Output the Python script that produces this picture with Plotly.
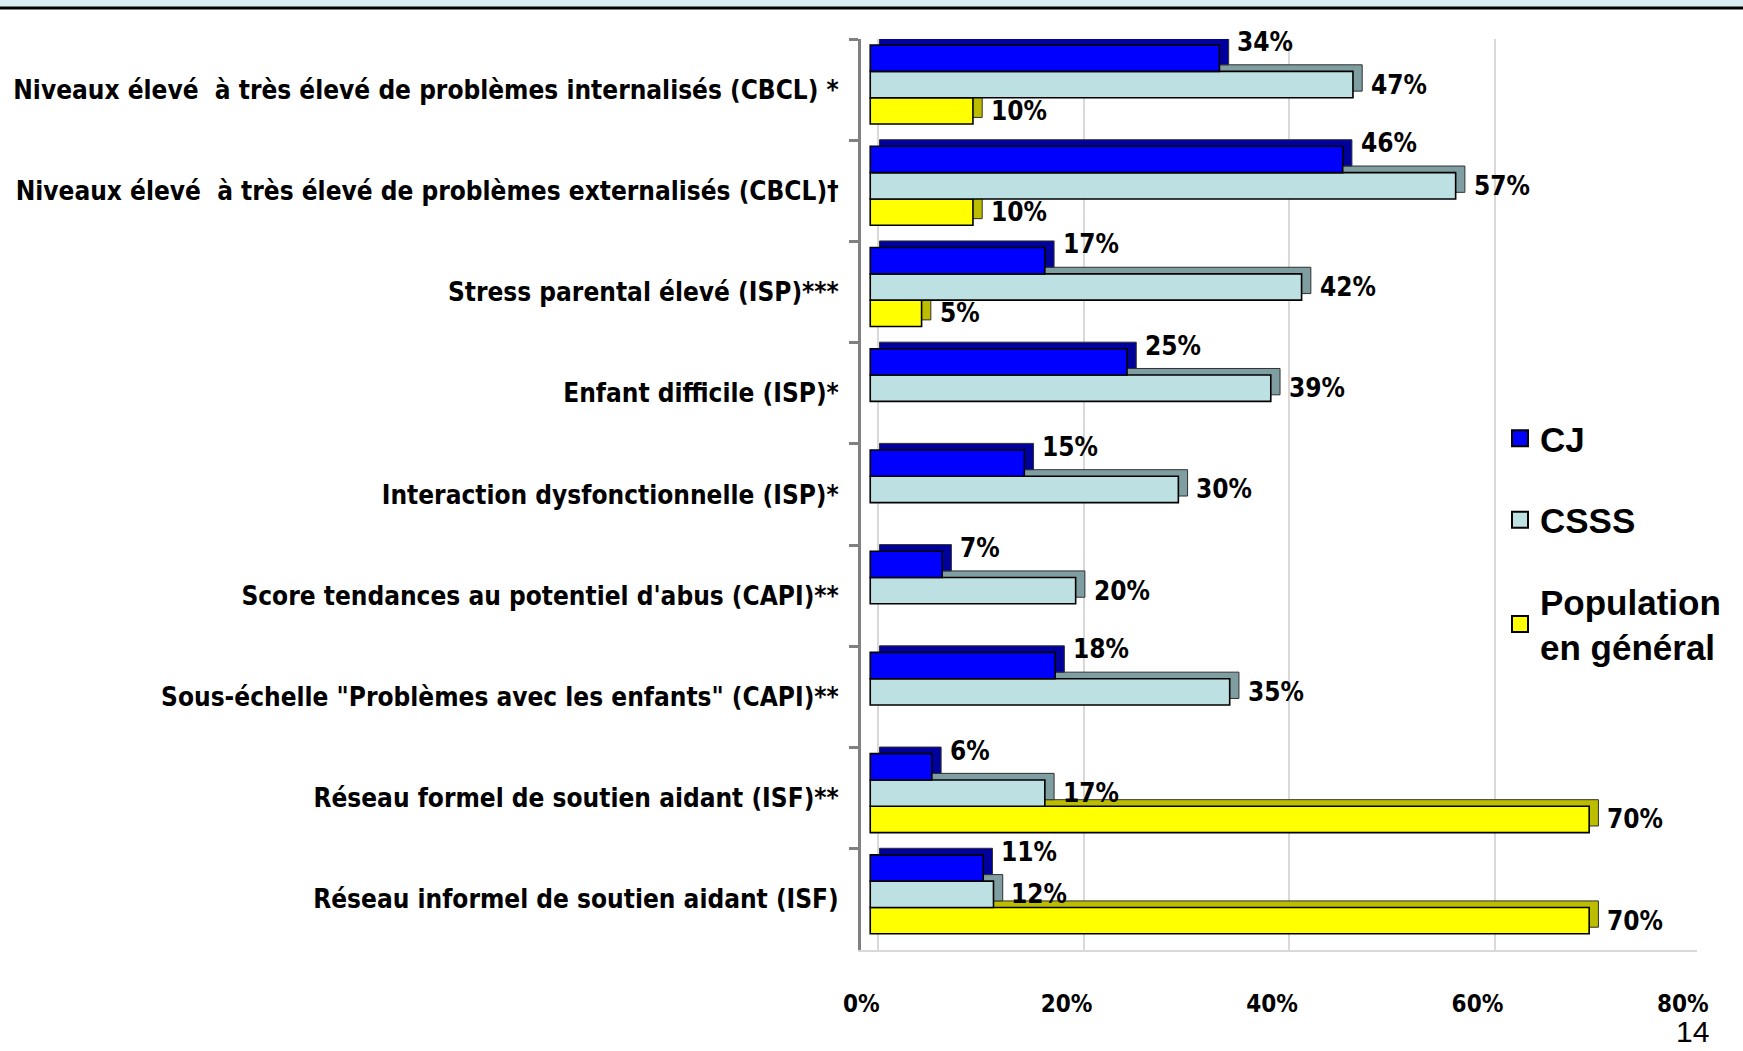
import plotly.graph_objects as go

categories = [
    "Niveaux élevé  à très élevé de problèmes internalisés (CBCL) *",
    "Niveaux élevé  à très élevé de problèmes externalisés (CBCL)†",
    "Stress parental élevé (ISP)***",
    "Enfant difficile (ISP)*",
    "Interaction dysfonctionnelle (ISP)*",
    "Score tendances au potentiel d'abus (CAPI)**",
    "Sous-échelle \"Problèmes avec les enfants\" (CAPI)**",
    "Réseau formel de soutien aidant (ISF)**",
    "Réseau informel de soutien aidant (ISF)",
]
cj = [34, 46, 17, 25, 15, 7, 18, 6, 11]
csss = [47, 57, 42, 39, 30, 20, 35, 17, 12]
population = [10, 10, 5, None, None, None, None, 70, 70]
series_names = ["CJ", "CSSS", "Population<br>en général"]
x_tick_values = [0, 20, 40, 60, 80]
x_tick_labels = ["0%", "20%", "40%", "60%", "80%"]

LABEL_FONT = "DejaVu Sans Condensed, Liberation Sans Narrow, DejaVu Sans"
DEPTH = 0.9      # extrusion to the right, in % units
W = 0.26         # bar thickness, in category units
SHIFT = -0.05

L, R, T, B = 861, 46, 39, 101
W_PX, H_PX = 1743, 1051
pw, ph = W_PX - L - R, H_PX - T - B
unit_px = ph / len(categories)   # pixels per category step

series = [
    # values, name, face, depth colour, bar offset, label lift (category units), legend rank
    (cj, series_names[0], "#0000FF", "#00009C", -0.39 + SHIFT, 0.16, 1),
    (csss, series_names[1], "#BDE0E3", "#7F9EA1", -0.13 + SHIFT, 0.0, 2),
    (population, series_names[2], "#FFFF00", "#BDBD00", 0.13 + SHIFT, 0.0, 3),
]

fig = go.Figure()

for vals, name, face, dark, off, lift, rank in reversed(series):
    # 3D extrusion (top + side faces)
    fig.add_trace(go.Bar(
        y=categories, x=vals, base=DEPTH, orientation="h",
        offset=off - 0.065, width=W,
        marker=dict(color=dark, line=dict(color="#303030", width=1)),
        showlegend=False, hoverinfo="skip",
    ))
    # front face
    fig.add_trace(go.Bar(
        y=categories, x=vals, orientation="h", name=name,
        offset=off, width=W, showlegend=False,
        marker=dict(color=face, line=dict(color="#000000", width=1.6)),
    ))

# value labels as annotations anchored on each bar end
annotations = []
for vals, name, face, dark, off, lift, rank in series:
    centre = off + W / 2 - lift
    for cat, v in zip(categories, vals):
        if v is None:
            continue
        annotations.append(dict(
            x=v, y=cat, xref="x", yref="y", text=f"{v}%", showarrow=False,
            xanchor="left", yanchor="middle", xshift=16, yshift=-centre * unit_px,
            font=dict(family=LABEL_FONT, size=26, color="#000000", weight="bold"),
        ))

# legend entries (square keys)
for vals, name, face, dark, off, lift, rank in series:
    fig.add_trace(go.Scatter(
        x=[None], y=[categories[0]], mode="markers", name=name, legendrank=rank,
        legendgroup=name,
        marker=dict(symbol="square", size=16, color=face, line=dict(color="#000000", width=2)),
    ))

# helper trace for the shifted back-wall gridlines
fig.add_trace(go.Scatter(x=[None], y=[categories[0]], xaxis="x2", yaxis="y",
                         mode="markers", showlegend=False, hoverinfo="skip"))


def px_x(q):
    return (q - L) / pw


def px_y(p):
    return (H_PX - B - p) / ph


xr = [-0.9, 80.5]

annotations.append(dict(
    text="14", xref="paper", yref="paper", x=px_x(1692), y=px_y(1050),
    xanchor="center", yanchor="bottom", showarrow=False,
    font=dict(family="Liberation Sans, Arial", size=30, color="#000000"),
))

fig.update_layout(
    width=W_PX, height=H_PX,
    margin=dict(l=L, r=R, t=T, b=B),
    barmode="overlay",
    paper_bgcolor="white", plot_bgcolor="white",
    xaxis=dict(
        range=xr, tickvals=x_tick_values, ticktext=x_tick_labels,
        showgrid=False, zeroline=False, showline=True, linecolor="#D9D9D9", linewidth=2,
        ticks="", ticklabelstandoff=31, ticklabelshift=-9,
        tickfont=dict(family=LABEL_FONT, size=24, color="#000000", weight="bold"),
    ),
    xaxis2=dict(
        overlaying="x", range=[xr[0] - 0.8, xr[1] - 0.8], tickvals=x_tick_values,
        showgrid=True, gridcolor="#D9D9D9", gridwidth=2, showticklabels=False,
        zeroline=False, showline=False, ticks="",
    ),
    yaxis=dict(
        type="category", categoryorder="array", categoryarray=categories,
        range=[len(categories) - 0.5, -0.5], tickson="boundaries", ticks="outside", ticklen=9,
        tickcolor="#808080", tickwidth=3, showline=True, linecolor="#808080", linewidth=3,
        showgrid=False, ticklabelstandoff=14,
        tickfont=dict(family=LABEL_FONT, size=26, color="#000000", weight="bold"),
    ),
    legend=dict(
        x=px_x(1500), y=px_y(409), xanchor="left", yanchor="top",
        bgcolor="rgba(0,0,0,0)", tracegroupgap=33, itemwidth=30,
        font=dict(family="Liberation Sans, Arial", size=35, color="#000000", weight="bold"),
    ),
    shapes=[
        dict(type="rect", xref="paper", yref="paper", x0=px_x(0), x1=px_x(W_PX),
             y0=px_y(7), y1=px_y(0), fillcolor="#DAEBF1", line=dict(width=0), layer="below"),
        dict(type="line", xref="paper", yref="paper", x0=px_x(0), x1=px_x(W_PX),
             y0=px_y(8), y1=px_y(8), line=dict(color="#000000", width=3)),
    ],
    annotations=annotations,
)

fig.write_html(
    "out.html",
    config={"displayModeBar": False},
    post_script="document.body.style.margin='0';document.documentElement.style.overflow='hidden';",
)
